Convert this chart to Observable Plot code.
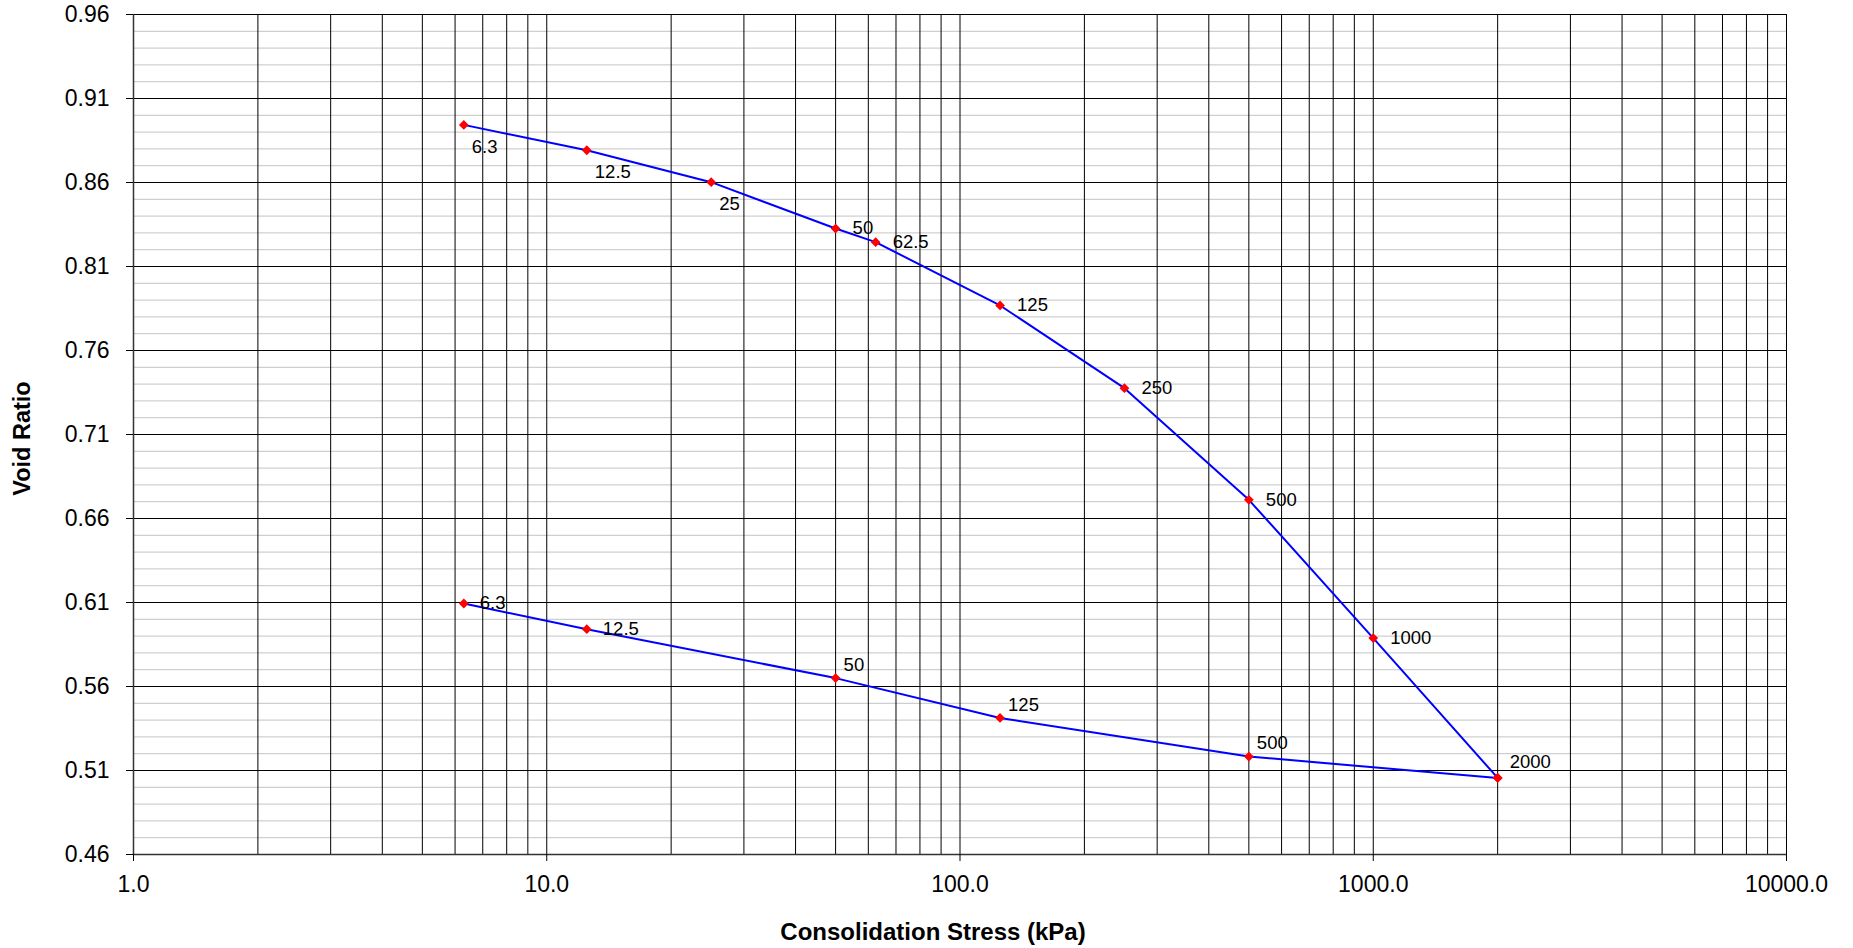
<!DOCTYPE html>
<html>
<head>
<meta charset="utf-8">
<script src="https://cdn.jsdelivr.net/npm/d3@7"></script>
<script src="https://cdn.jsdelivr.net/npm/@observablehq/plot@0.6"></script>
<style>
  html, body { margin: 0; padding: 0; background: #fff; }
  #chart { width: 1853px; height: 948px; }
</style>
</head>
<body>
<div id="chart"></div>
<script>
// Loading branch
const stressLoad = [6.3, 12.5, 25, 50, 62.5, 125, 250, 500, 1000, 2000];
const voidLoad   = [0.8943, 0.8792, 0.8602, 0.8326, 0.8245, 0.7868, 0.7376, 0.6711, 0.5888, 0.5056];
const labelLoad  = ["6.3", "12.5", "25", "50", "62.5", "125", "250", "500", "1000", "2000"];
// Unloading branch
const stressUnload = [2000, 500, 125, 50, 12.5, 6.3];
const voidUnload   = [0.5056, 0.5183, 0.5413, 0.565, 0.5941, 0.6094];
const labelUnload  = ["", "500", "125", "50", "12.5", "6.3"];
// Axis ticks
const xTicks = [1, 10, 100, 1000, 10000];
const yTicks = [0.46, 0.51, 0.56, 0.61, 0.66, 0.71, 0.76, 0.81, 0.86, 0.91, 0.96];

const load = stressLoad.map((s, i) => ({stress: s, e: voidLoad[i], label: labelLoad[i]}));
const unload = stressUnload.map((s, i) => ({stress: s, e: voidUnload[i], label: labelUnload[i]}));

const xGrid = [];
for (let k = 0; k < 4; k++) for (let m = 1; m <= 9; m++) xGrid.push(m * Math.pow(10, k));
xGrid.push(10000);
const yMinor = d3.range(0, 51).map(i => +(0.46 + i * 0.01).toFixed(2));

const font = "'Liberation Sans', Arial, sans-serif";
const lbl = {x: "stress", y: "e", text: "label", textAnchor: "start", fontSize: 18.5, fill: "#000"};

const chart = Plot.plot({
  width: 1853,
  height: 948,
  marginLeft: 133,
  marginRight: 67,
  marginTop: 14,
  marginBottom: 94,
  style: {fontFamily: font, fontSize: "23px", background: "#fff", color: "#000"},
  x: {type: "log", domain: [1, 10000]},
  y: {domain: [0.46, 0.96]},
  marks: [
    Plot.ruleY(yMinor, {stroke: "#c4c4c4", strokeWidth: 1}),
    Plot.ruleX(xGrid, {stroke: "#000", strokeWidth: 1}),
    Plot.ruleY(yTicks, {stroke: "#000", strokeWidth: 1}),
    Plot.ruleX([1], {stroke: "#333", strokeWidth: 1.5}),
    Plot.ruleY([0.46], {stroke: "#333", strokeWidth: 1.5}),
    Plot.axisX({ticks: xTicks, tickSize: 7, tickPadding: 14, tickFormat: d => d.toFixed(1), label: null, fontSize: 23}),
    Plot.axisY({ticks: yTicks, tickSize: 7, tickPadding: 17, tickFormat: d => d.toFixed(2), label: null, fontSize: 23}),
    Plot.line(load, {x: "stress", y: "e", stroke: "#0000ff", strokeWidth: 2}),
    Plot.line(unload, {x: "stress", y: "e", stroke: "#0000ff", strokeWidth: 2}),
    Plot.dot(load.concat(unload), {x: "stress", y: "e", symbol: "diamond2", r: 4.4, fill: "#ff0000", stroke: "none"}),
    // loading labels: first three below-right, rest to the right
    Plot.text(load.filter(d => d.stress <= 25), {...lbl, dx: 8, dy: 22}),
    Plot.text(load.filter(d => d.stress > 25 && d.stress < 2000), {...lbl, dx: 17, dy: 0}),
    Plot.text(load.filter(d => d.stress === 2000), {...lbl, dx: 12, dy: -16}),
    // unloading labels
    Plot.text(unload.filter(d => d.label && d.stress < 25), {...lbl, dx: 16, dy: 0}),
    Plot.text(unload.filter(d => d.label && d.stress > 25), {...lbl, dx: 8, dy: -13}),
    // axis titles
    Plot.text(["Consolidation Stress (kPa)"], {frameAnchor: "bottom", lineAnchor: "middle", textAnchor: "middle", dy: 78, dx: -27, text: d => d, fontSize: 24, fontWeight: "bold", fill: "#000"}),
    Plot.text(["Void Ratio"], {frameAnchor: "left", textAnchor: "middle", lineAnchor: "middle", dx: -111, dy: 4, rotate: -90, text: d => d, fontSize: 23.5, fontWeight: "bold", fill: "#000"})
  ]
});
document.getElementById("chart").appendChild(chart);
</script>
</body>
</html>
